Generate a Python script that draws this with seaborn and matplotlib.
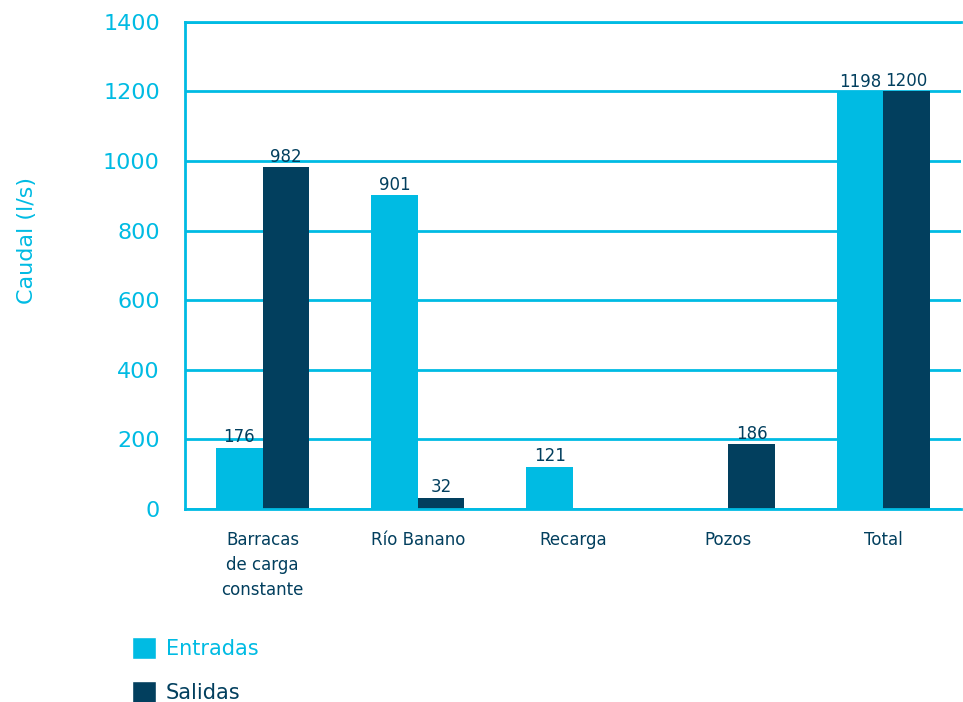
import numpy as np
import pandas as pd
import matplotlib
matplotlib.use("Agg")
import matplotlib.pyplot as plt
import seaborn as sns
from matplotlib.patches import Patch

# data
categories = ["Barracas\nde carga\nconstante", "Río Banano", "Recarga", "Pozos", "Total"]
entradas = [176, 901, 121, np.nan, 1198]
salidas = [982, 32, np.nan, 186, 1200]
series = ["Entradas", "Salidas"]

cyan = "#00BBE3"
navy = "#023F5E"

df = pd.DataFrame({
    "cat": categories * 2,
    "serie": [series[0]] * len(categories) + [series[1]] * len(categories),
    "valor": entradas + salidas,
})

sns.set_style("white")
plt.rcParams["font.family"] = ["DejaVu Sans"]

fig = plt.figure(figsize=(9.63, 7.02), dpi=100)
ax = fig.add_axes([0.192, 0.275, 0.806, 0.694])

sns.barplot(data=df, x="cat", y="valor", hue="serie", order=categories,
            hue_order=series, palette=[cyan, navy], width=0.6,
            saturation=1, legend=False, linewidth=0, edgecolor="none", ax=ax)

for cont in ax.containers:
    labels = ["" if np.isnan(v) else f"{v:.0f}" for v in cont.datavalues]
    ax.bar_label(cont, labels=labels, padding=1, fontsize=12, color=navy)

ax.set_ylim(0, 1400)
ax.set_yticks(range(0, 1401, 200))
ax.yaxis.grid(True, color=cyan, linewidth=2)
ax.set_axisbelow(True)
for side in ["left", "top", "bottom"]:
    ax.spines[side].set_color(cyan)
    ax.spines[side].set_linewidth(2)
ax.spines["right"].set_visible(False)

ax.tick_params(axis="y", length=0, pad=18, labelsize=16, labelcolor=cyan)
ax.tick_params(axis="x", length=0, pad=16, labelsize=12, labelcolor=navy)
for lab in ax.get_xticklabels():
    lab.set_linespacing(1.5)
ax.set_xlabel("")
ax.set_ylabel("Caudal (l/s)", color=cyan, fontsize=16)
ax.yaxis.set_label_coords(-0.19, 0.55)

handles = [Patch(facecolor=cyan), Patch(facecolor=navy)]
fig.legend(handles, series, loc="upper left", bbox_to_anchor=(0.118, 0.12),
           frameon=False, fontsize=15, handlelength=1.15, handleheight=1.25,
           labelspacing=1.1, handletextpad=0.45, labelcolor=[cyan, navy])

fig.savefig("out.png", dpi=100)
